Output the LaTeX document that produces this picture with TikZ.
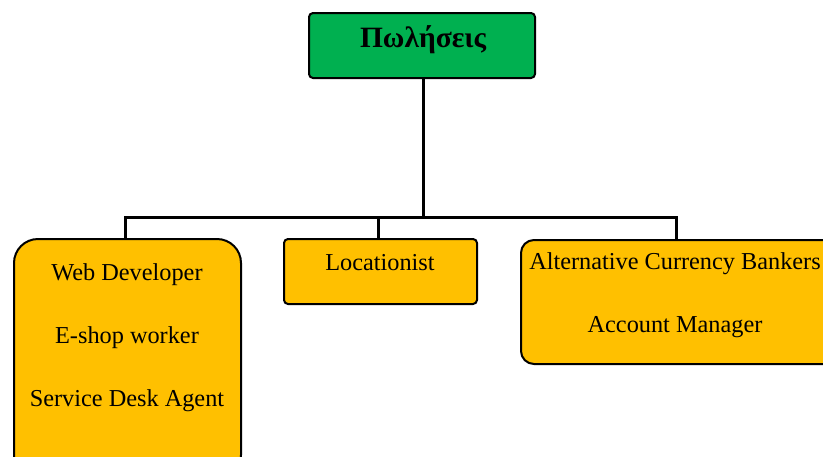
\documentclass[tikz,border=0pt]{standalone}
\usepackage{fontspec}
\setmainfont{Liberation Serif}
\definecolor{boxgreen}{HTML}{00B050}
\definecolor{boxorange}{HTML}{FFC000}
\begin{document}
\begin{tikzpicture}[x=1pt,y=-1pt,
  box/.style={draw=black, line width=2pt, inner sep=0pt, anchor=north west},
  lbl/.style={font=\fontsize{24.3}{28}\selectfont, inner sep=0pt},
  conn/.style={draw=black, line width=3pt}]
\useasboundingbox (0,0) rectangle (823,456);
\node[box, fill=boxgreen, rounded corners=4pt, minimum width=226pt, minimum height=65pt] (top) at (308,12) {};
\node[box, fill=boxorange, rounded corners=24pt, minimum width=227pt, minimum height=240pt] (left) at (13,238) {};
\node[box, fill=boxorange, rounded corners=4pt, minimum width=193pt, minimum height=65pt] (mid) at (283,238) {};
\node[box, fill=boxorange, rounded corners=13pt, minimum width=320pt, minimum height=124pt] (right) at (520,239) {};
\node[font=\bfseries\fontsize{29.5}{33}\selectfont, inner sep=0pt] (t0) at (423,40) {Πωλήσεις};
\node[lbl] (l1) at (127,275) {Web Developer};
\node[lbl] (l2) at (127,338) {E-shop worker};
\node[lbl] (l3) at (127,401) {Service Desk Agent};
\node[lbl] (m1) at (380,263) {Locationist};
\node[lbl] (r1) at (675,264) {Alternative Currency Bankers};
\node[lbl] (r2) at (675,327) {Account Manager};
\coordinate (hub) at (423,217);
\coordinate (cl) at (125,217);
\coordinate (cm) at (378,217);
\coordinate (cr) at (676,217);
\draw[conn] (top.south -| hub) -- (hub);
\draw[conn, line cap=rect] (cl) -- (cr);
\draw[conn] (cl) -- (cl |- left.north);
\draw[conn] (cm) -- (cm |- mid.north);
\draw[conn] (cr) -- (cr |- right.north);
\end{tikzpicture}
\end{document}
